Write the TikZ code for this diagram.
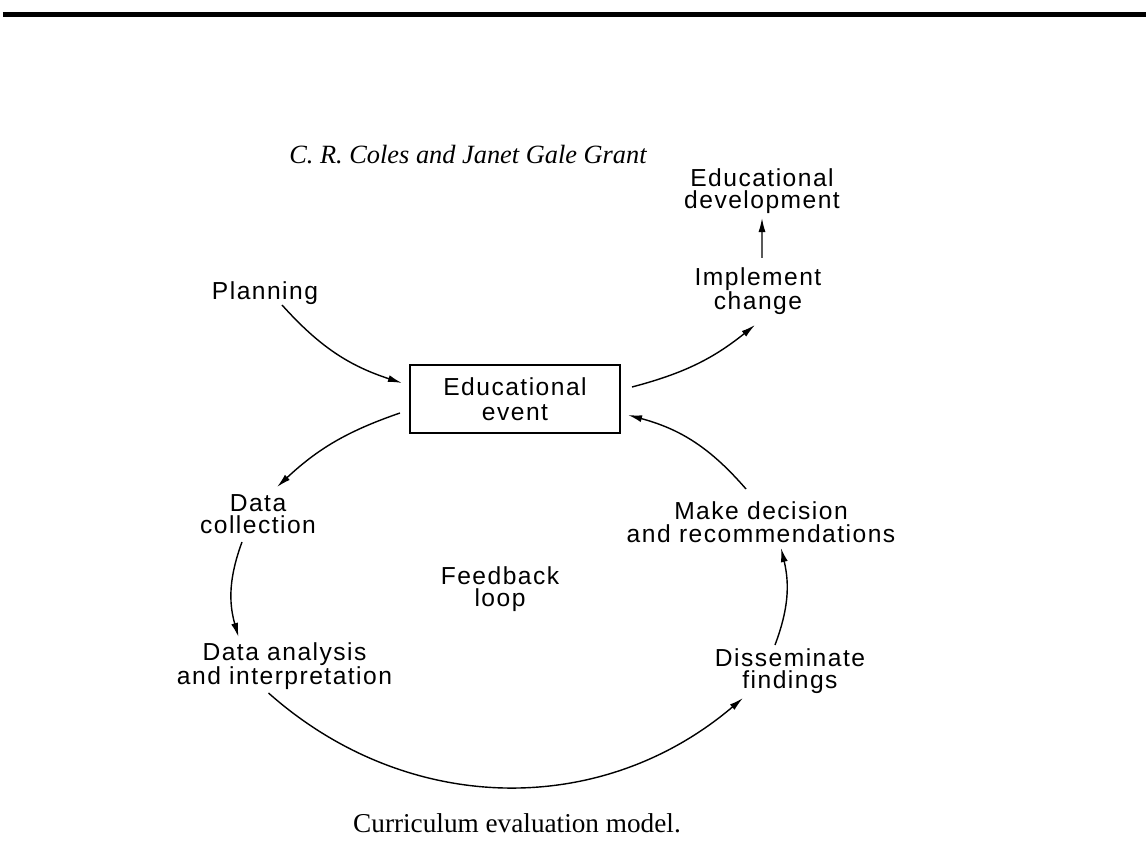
\documentclass[tikz,border=0pt]{standalone}
\usepackage{fontspec}
\setmainfont{Liberation Serif}
\newfontfamily\lblfont[LetterSpace=6]{Liberation Sans}
\usetikzlibrary{arrows.meta, positioning}

\begin{document}
\begin{tikzpicture}[thick,
  lbl/.style={align=center, font=\lblfont\fontsize{14}{12.8}\selectfont, inner sep=1pt},
  arr/.style={-{Latex[length=8pt,width=4pt]}, line width=0.8pt}]
\useasboundingbox (0,0) rectangle (22.92,17.2);
\draw[line width=2.8pt] (0.06,16.91) -- (22.92,16.91);
\node (title) at (9.36,14.10) {\fontsize{15}{18}\selectfont\itshape C. R. Coles and Janet Gale Grant};
\node[lbl] (edudev) at (15.24,13.38) {Educational\\development};
\node[lbl] (implement) at (15.16,11.38) {Implement\\change};
\node[lbl] (planning) at (5.30,11.34) {Planning};
\node[lbl, draw, line width=1.1pt, minimum width=4.2cm, minimum height=1.36cm, font=\lblfont\fontsize{14}{14}\selectfont] (event) at (10.30,9.22) {Educational\\event};
\node[lbl] (datacoll) at (5.16,6.92) {Data\\collection};
\node[lbl] (analysis) at (5.69,3.88) {Data analysis\\and interpretation};
\node[lbl] (dissem) at (15.80,3.78) {Disseminate\\findings};
\node[lbl] (decision) at (15.22,6.76) {Make decision\\and recommendations};
\node[lbl] (feedback) at (10.0,5.42) {Feedback\\loop};
\node (caption) at (10.34,0.74) {\fontsize{15.5}{18}\selectfont Curriculum evaluation model.};
\draw[arr] ([shift={(0.34,-0.24)}]planning.center) to[bend right=15] ([shift={(-2.26,0.32)}]event.center);
\draw[arr] ([shift={(2.34,0.24)}]event.center) to[bend right=12] ([shift={(-0.06,-0.68)}]implement.center);
\draw[arr] ([shift={(0.08,0.66)}]implement.center) -- ([shift={(0,-0.54)}]edudev.center);
\draw[arr] ([shift={(-2.30,-0.28)}]event.center) to[bend right=12] ([shift={(0.38,0.54)}]datacoll.center);
\draw[arr] ([shift={(-0.32,-0.56)}]datacoll.center) to[bend right=18] ([shift={(-0.92,0.58)}]analysis.center);
\draw[arr] ([shift={(-0.32,-0.54)}]analysis.center) to[bend right=41] ([shift={(-0.94,-0.54)}]dissem.center);
\draw[arr] ([shift={(-0.30,0.52)}]dissem.center) to[bend right=17] ([shift={(0.40,-0.52)}]decision.center);
\draw[arr] ([shift={(-0.30,0.66)}]decision.center) to[bend right=17] ([shift={(2.26,-0.32)}]event.center);
\end{tikzpicture}
\end{document}
